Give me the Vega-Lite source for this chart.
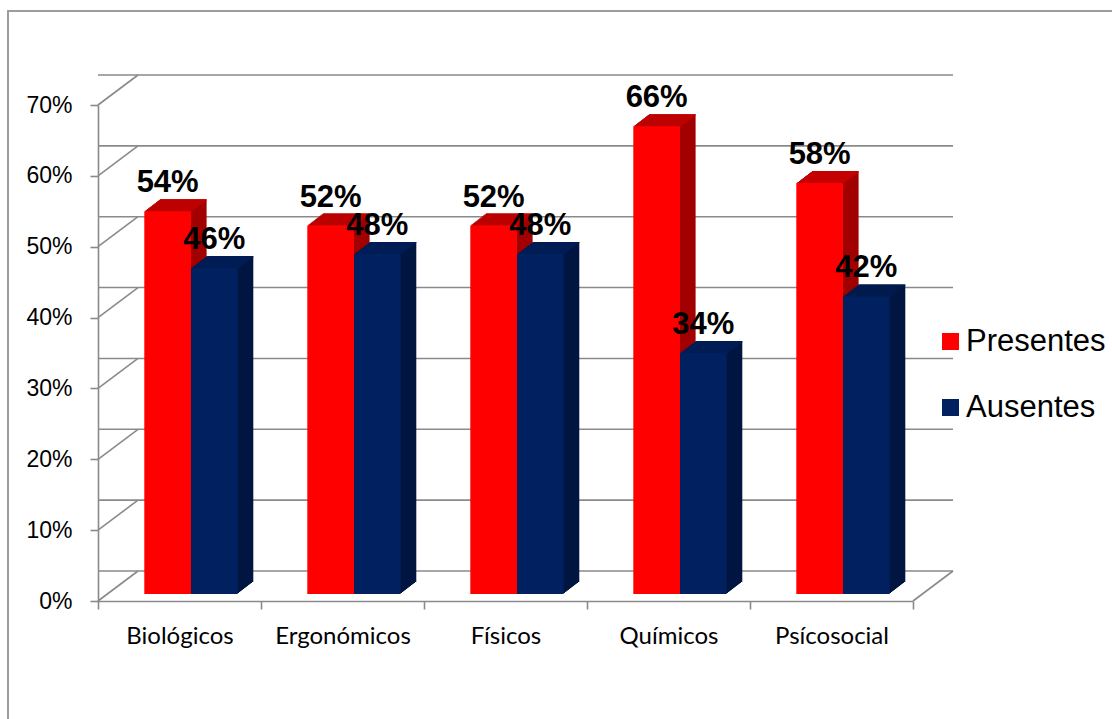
{
  "$schema": "https://vega.github.io/schema/vega-lite/v6.json",
  "width": 815,
  "height": 496,
  "autosize": "none",
  "padding": {"left": 98, "top": 105, "right": 199, "bottom": 118},
  "background": "white",
  "datasets": {
    "riesgos": [
      {"riesgo": "Biológicos", "serie": "Presentes", "valor": 0.54},
      {"riesgo": "Biológicos", "serie": "Ausentes", "valor": 0.46},
      {"riesgo": "Ergonómicos", "serie": "Presentes", "valor": 0.52},
      {"riesgo": "Ergonómicos", "serie": "Ausentes", "valor": 0.48},
      {"riesgo": "Físicos", "serie": "Presentes", "valor": 0.52},
      {"riesgo": "Físicos", "serie": "Ausentes", "valor": 0.48},
      {"riesgo": "Químicos", "serie": "Presentes", "valor": 0.66},
      {"riesgo": "Químicos", "serie": "Ausentes", "valor": 0.34},
      {"riesgo": "Psícosocial", "serie": "Presentes", "valor": 0.58},
      {"riesgo": "Psícosocial", "serie": "Ausentes", "valor": 0.42}
    ],
    "niveles": [
      {"nivel": 0}, {"nivel": 0.1}, {"nivel": 0.2}, {"nivel": 0.3},
      {"nivel": 0.4}, {"nivel": 0.5}, {"nivel": 0.6}, {"nivel": 0.7}
    ]
  },
  "layer": [
    {
      "data": {"name": "niveles"},
      "layer": [
        {
          "mark": {"type": "rule", "color": "#8a8a8a", "strokeWidth": 1.6, "xOffset": 40, "x2Offset": 40, "yOffset": -30},
          "encoding": {
            "y": {"field": "nivel", "type": "quantitative", "scale": {"domain": [0, 0.7], "nice": false, "zero": true},
              "axis": {"title": null, "format": ".0%", "values": [0, 0.1, 0.2, 0.3, 0.4, 0.5, 0.6, 0.7],
                "labelFont": "Liberation Sans", "labelFontSize": 23, "labelPadding": 18, "tickSize": 8}}
          }
        },
        {
          "mark": {"type": "rule", "color": "#8a8a8a", "strokeWidth": 1.6, "x2Offset": 40, "y2Offset": -30},
          "encoding": {
            "x": {"value": 0},
            "x2": {"value": 0},
            "y": {"field": "nivel", "type": "quantitative"},
            "y2": {"field": "nivel"}
          }
        },
        {
          "transform": [{"filter": "datum.nivel === 0"}],
          "mark": {"type": "rule", "color": "#8a8a8a", "strokeWidth": 1.6, "x2Offset": 40, "y2Offset": -30},
          "encoding": {
            "x": {"value": "width"},
            "x2": {"value": "width"},
            "y": {"field": "nivel", "type": "quantitative"},
            "y2": {"field": "nivel"}
          }
        },
        {
          "transform": [{"filter": "datum.nivel === 0"}],
          "mark": {"type": "rule", "color": "#9c9c9c", "strokeWidth": 2},
          "encoding": {
            "x": {"value": -90},
            "y": {"value": -94},
            "y2": {"value": 640}
          }
        },
        {
          "transform": [{"filter": "datum.nivel === 0"}],
          "mark": {"type": "rule", "color": "#9c9c9c", "strokeWidth": 2},
          "encoding": {
            "x": {"value": -91},
            "x2": {"value": 1030},
            "y": {"value": -94}
          }
        }
      ]
    },
    {
      "data": {"name": "riesgos"},
      "resolve": {"scale": {"xOffset": "independent"}},
      "encoding": {
        "x": {"field": "riesgo", "type": "nominal",
          "sort": ["Biológicos", "Ergonómicos", "Físicos", "Químicos", "Psícosocial"],
          "scale": {"paddingInner": 0, "paddingOuter": 0},
          "axis": {"title": null, "labelAngle": 0, "tickBand": "extent", "tickSize": 8,
            "labelFont": "Lato", "labelFontSize": 24, "labelBaseline": "alphabetic", "labelPadding": 34}},
        "y": {"field": "valor", "type": "quantitative", "axis": {"title": null}}
      },
      "layer": [
        {"mark": {"type": "bar", "yOffset": -19, "y2Offset": -19}, "encoding": {"xOffset": {"field": "serie", "scale": {"domain": ["Presentes", "Ausentes"], "paddingInner": 0, "paddingOuter": 0.7452, "align": 0.8894}}, "fill": {"condition": {"test": "datum.serie === 'Presentes'", "value": "#a20000"}, "value": "#001641"}}},
        {"mark": {"type": "bar", "yOffset": -19, "y2Offset": -17.6}, "encoding": {"xOffset": {"field": "serie", "scale": {"domain": ["Presentes", "Ausentes"], "paddingInner": 0, "paddingOuter": 0.7452, "align": 0.8894}}, "y2": {"field": "valor"}, "fill": {"condition": {"test": "datum.serie === 'Presentes'", "value": "#c40000"}, "value": "#001c55"}}},
        {"mark": {"type": "bar", "yOffset": -18, "y2Offset": -18}, "encoding": {"xOffset": {"field": "serie", "scale": {"domain": ["Presentes", "Ausentes"], "paddingInner": 0, "paddingOuter": 0.7452, "align": 0.8707}}, "fill": {"condition": {"test": "datum.serie === 'Presentes'", "value": "#a20000"}, "value": "#001641"}}},
        {"mark": {"type": "bar", "yOffset": -18, "y2Offset": -16.6}, "encoding": {"xOffset": {"field": "serie", "scale": {"domain": ["Presentes", "Ausentes"], "paddingInner": 0, "paddingOuter": 0.7452, "align": 0.8707}}, "y2": {"field": "valor"}, "fill": {"condition": {"test": "datum.serie === 'Presentes'", "value": "#c40000"}, "value": "#001c55"}}},
        {"mark": {"type": "bar", "yOffset": -17, "y2Offset": -17}, "encoding": {"xOffset": {"field": "serie", "scale": {"domain": ["Presentes", "Ausentes"], "paddingInner": 0, "paddingOuter": 0.7452, "align": 0.8520}}, "fill": {"condition": {"test": "datum.serie === 'Presentes'", "value": "#a20000"}, "value": "#001641"}}},
        {"mark": {"type": "bar", "yOffset": -17, "y2Offset": -15.6}, "encoding": {"xOffset": {"field": "serie", "scale": {"domain": ["Presentes", "Ausentes"], "paddingInner": 0, "paddingOuter": 0.7452, "align": 0.8520}}, "y2": {"field": "valor"}, "fill": {"condition": {"test": "datum.serie === 'Presentes'", "value": "#c40000"}, "value": "#001c55"}}},
        {"mark": {"type": "bar", "yOffset": -16, "y2Offset": -16}, "encoding": {"xOffset": {"field": "serie", "scale": {"domain": ["Presentes", "Ausentes"], "paddingInner": 0, "paddingOuter": 0.7452, "align": 0.8333}}, "fill": {"condition": {"test": "datum.serie === 'Presentes'", "value": "#a20000"}, "value": "#001641"}}},
        {"mark": {"type": "bar", "yOffset": -16, "y2Offset": -14.6}, "encoding": {"xOffset": {"field": "serie", "scale": {"domain": ["Presentes", "Ausentes"], "paddingInner": 0, "paddingOuter": 0.7452, "align": 0.8333}}, "y2": {"field": "valor"}, "fill": {"condition": {"test": "datum.serie === 'Presentes'", "value": "#c40000"}, "value": "#001c55"}}},
        {"mark": {"type": "bar", "yOffset": -15, "y2Offset": -15}, "encoding": {"xOffset": {"field": "serie", "scale": {"domain": ["Presentes", "Ausentes"], "paddingInner": 0, "paddingOuter": 0.7452, "align": 0.8147}}, "fill": {"condition": {"test": "datum.serie === 'Presentes'", "value": "#a20000"}, "value": "#001641"}}},
        {"mark": {"type": "bar", "yOffset": -15, "y2Offset": -13.6}, "encoding": {"xOffset": {"field": "serie", "scale": {"domain": ["Presentes", "Ausentes"], "paddingInner": 0, "paddingOuter": 0.7452, "align": 0.8147}}, "y2": {"field": "valor"}, "fill": {"condition": {"test": "datum.serie === 'Presentes'", "value": "#c40000"}, "value": "#001c55"}}},
        {"mark": {"type": "bar", "yOffset": -14, "y2Offset": -14}, "encoding": {"xOffset": {"field": "serie", "scale": {"domain": ["Presentes", "Ausentes"], "paddingInner": 0, "paddingOuter": 0.7452, "align": 0.7960}}, "fill": {"condition": {"test": "datum.serie === 'Presentes'", "value": "#a20000"}, "value": "#001641"}}},
        {"mark": {"type": "bar", "yOffset": -14, "y2Offset": -12.6}, "encoding": {"xOffset": {"field": "serie", "scale": {"domain": ["Presentes", "Ausentes"], "paddingInner": 0, "paddingOuter": 0.7452, "align": 0.7960}}, "y2": {"field": "valor"}, "fill": {"condition": {"test": "datum.serie === 'Presentes'", "value": "#c40000"}, "value": "#001c55"}}},
        {"mark": {"type": "bar", "yOffset": -13, "y2Offset": -13}, "encoding": {"xOffset": {"field": "serie", "scale": {"domain": ["Presentes", "Ausentes"], "paddingInner": 0, "paddingOuter": 0.7452, "align": 0.7773}}, "fill": {"condition": {"test": "datum.serie === 'Presentes'", "value": "#a20000"}, "value": "#001641"}}},
        {"mark": {"type": "bar", "yOffset": -13, "y2Offset": -11.6}, "encoding": {"xOffset": {"field": "serie", "scale": {"domain": ["Presentes", "Ausentes"], "paddingInner": 0, "paddingOuter": 0.7452, "align": 0.7773}}, "y2": {"field": "valor"}, "fill": {"condition": {"test": "datum.serie === 'Presentes'", "value": "#c40000"}, "value": "#001c55"}}},
        {"mark": {"type": "bar", "yOffset": -12, "y2Offset": -12}, "encoding": {"xOffset": {"field": "serie", "scale": {"domain": ["Presentes", "Ausentes"], "paddingInner": 0, "paddingOuter": 0.7452, "align": 0.7586}}, "fill": {"condition": {"test": "datum.serie === 'Presentes'", "value": "#a20000"}, "value": "#001641"}}},
        {"mark": {"type": "bar", "yOffset": -12, "y2Offset": -10.6}, "encoding": {"xOffset": {"field": "serie", "scale": {"domain": ["Presentes", "Ausentes"], "paddingInner": 0, "paddingOuter": 0.7452, "align": 0.7586}}, "y2": {"field": "valor"}, "fill": {"condition": {"test": "datum.serie === 'Presentes'", "value": "#c40000"}, "value": "#001c55"}}},
        {"mark": {"type": "bar", "yOffset": -11, "y2Offset": -11}, "encoding": {"xOffset": {"field": "serie", "scale": {"domain": ["Presentes", "Ausentes"], "paddingInner": 0, "paddingOuter": 0.7452, "align": 0.7399}}, "fill": {"condition": {"test": "datum.serie === 'Presentes'", "value": "#a20000"}, "value": "#001641"}}},
        {"mark": {"type": "bar", "yOffset": -11, "y2Offset": -9.6}, "encoding": {"xOffset": {"field": "serie", "scale": {"domain": ["Presentes", "Ausentes"], "paddingInner": 0, "paddingOuter": 0.7452, "align": 0.7399}}, "y2": {"field": "valor"}, "fill": {"condition": {"test": "datum.serie === 'Presentes'", "value": "#c40000"}, "value": "#001c55"}}},
        {"mark": {"type": "bar", "yOffset": -10, "y2Offset": -10}, "encoding": {"xOffset": {"field": "serie", "scale": {"domain": ["Presentes", "Ausentes"], "paddingInner": 0, "paddingOuter": 0.7452, "align": 0.7213}}, "fill": {"condition": {"test": "datum.serie === 'Presentes'", "value": "#a20000"}, "value": "#001641"}}},
        {"mark": {"type": "bar", "yOffset": -10, "y2Offset": -8.6}, "encoding": {"xOffset": {"field": "serie", "scale": {"domain": ["Presentes", "Ausentes"], "paddingInner": 0, "paddingOuter": 0.7452, "align": 0.7213}}, "y2": {"field": "valor"}, "fill": {"condition": {"test": "datum.serie === 'Presentes'", "value": "#c40000"}, "value": "#001c55"}}},
        {"mark": {"type": "bar", "yOffset": -9, "y2Offset": -9}, "encoding": {"xOffset": {"field": "serie", "scale": {"domain": ["Presentes", "Ausentes"], "paddingInner": 0, "paddingOuter": 0.7452, "align": 0.7026}}, "fill": {"condition": {"test": "datum.serie === 'Presentes'", "value": "#a20000"}, "value": "#001641"}}},
        {"mark": {"type": "bar", "yOffset": -9, "y2Offset": -7.6}, "encoding": {"xOffset": {"field": "serie", "scale": {"domain": ["Presentes", "Ausentes"], "paddingInner": 0, "paddingOuter": 0.7452, "align": 0.7026}}, "y2": {"field": "valor"}, "fill": {"condition": {"test": "datum.serie === 'Presentes'", "value": "#c40000"}, "value": "#001c55"}}},
        {"mark": {"type": "bar", "yOffset": -8, "y2Offset": -8}, "encoding": {"xOffset": {"field": "serie", "scale": {"domain": ["Presentes", "Ausentes"], "paddingInner": 0, "paddingOuter": 0.7452, "align": 0.6839}}, "fill": {"condition": {"test": "datum.serie === 'Presentes'", "value": "#a20000"}, "value": "#001641"}}},
        {"mark": {"type": "bar", "yOffset": -8, "y2Offset": -6.6}, "encoding": {"xOffset": {"field": "serie", "scale": {"domain": ["Presentes", "Ausentes"], "paddingInner": 0, "paddingOuter": 0.7452, "align": 0.6839}}, "y2": {"field": "valor"}, "fill": {"condition": {"test": "datum.serie === 'Presentes'", "value": "#c40000"}, "value": "#001c55"}}},
        {
          "mark": {"type": "bar", "yOffset": -7, "y2Offset": -7},
          "encoding": {
            "xOffset": {"field": "serie", "scale": {"domain": ["Presentes", "Ausentes"], "paddingInner": 0, "paddingOuter": 0.7452, "align": 0.6652}},
            "color": {"field": "serie", "type": "nominal",
              "scale": {"domain": ["Presentes", "Ausentes"], "range": ["#ff0000", "#002060"]},
              "legend": {"title": null, "orient": "none", "legendX": 837, "legendY": 221,
                "symbolType": "square", "symbolSize": 289, "symbolStrokeWidth": 0,
                "labelFont": "Liberation Sans", "labelFontSize": 31, "labelColor": "black",
                "labelOffset": 0, "labelLimit": 300, "rowPadding": 34, "padding": 0}}
          }
        },
        {
          "mark": {"type": "text", "font": "Liberation Sans", "fontWeight": "bold", "fontSize": 31,
            "baseline": "alphabetic", "align": "center", "color": "black", "yOffset": -26},
          "encoding": {
            "xOffset": {"field": "serie", "scale": {"type": "band", "domain": ["Presentes", "Ausentes"], "paddingInner": 0, "paddingOuter": 0.7452, "align": 0.6652}},
            "text": {"field": "valor", "type": "quantitative", "format": ".0%"}
          }
        }
      ]
    }
  ],
  "config": {
    "view": {"stroke": null},
    "axis": {"domainColor": "#8a8a8a", "tickColor": "#8a8a8a", "domainWidth": 1.6, "tickWidth": 1.6,
      "grid": false, "labelColor": "black"}
  }
}
